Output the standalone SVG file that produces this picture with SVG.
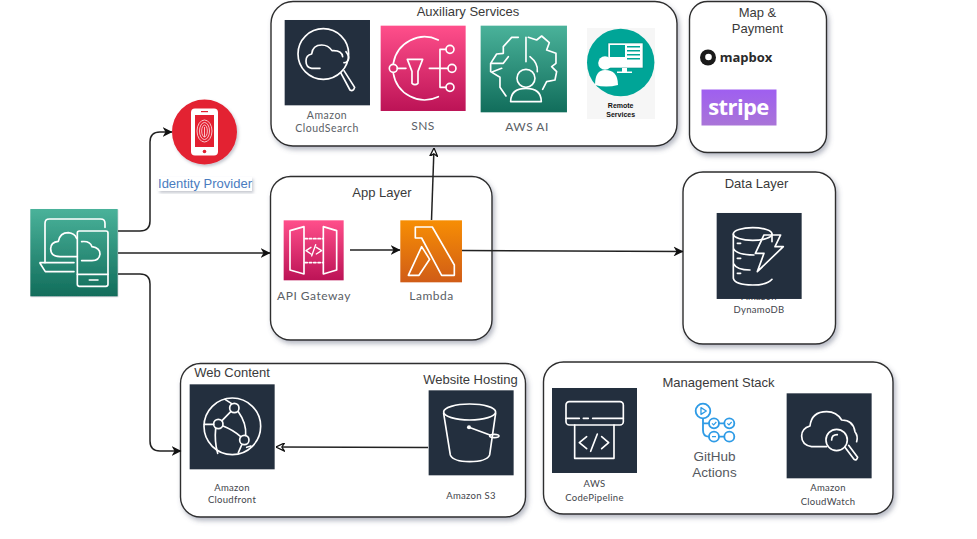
<svg xmlns="http://www.w3.org/2000/svg" width="977" height="539" viewBox="0 0 977 539">
<style>
text{font-family:"Liberation Sans",Arial,sans-serif;fill:#3a3a3a;text-anchor:middle}
.t{font-size:13px}
.h{font-family:"Lato","Liberation Sans",sans-serif;font-size:10.5px;fill:#5a6066;letter-spacing:.5px}
.hs{font-family:"Lato","Liberation Sans",sans-serif;font-size:9.5px;fill:#3f454b;letter-spacing:.3px}
.box{fill:#fff;stroke:#2e2e2e;stroke-width:1.4;filter:url(#sh)}
.i{fill:none;stroke:#fff;stroke-width:5;stroke-linecap:round;stroke-linejoin:round}
.c{fill:none;stroke:#222;stroke-width:1.5}
.dark{fill:#232f3e}
</style>
<defs>
<filter id="sh" x="-10%" y="-10%" width="125%" height="125%"><feDropShadow dx="2" dy="3" stdDeviation="2.5" flood-color="#5a6478" flood-opacity=".45"/></filter>
<filter id="is" x="-10%" y="-10%" width="125%" height="125%"><feDropShadow dx="1.5" dy="2" stdDeviation="1.5" flood-color="#5a6478" flood-opacity=".35"/></filter>
<linearGradient id="pink" x1="0" y1="0" x2="0" y2="1"><stop offset="0" stop-color="#ff4f8b"/><stop offset="1" stop-color="#bc1356"/></linearGradient>
<linearGradient id="green" x1="0" y1="0" x2="0" y2="1"><stop offset="0" stop-color="#4ab29a"/><stop offset="1" stop-color="#116d5b"/></linearGradient>
<linearGradient id="orange" x1="0" y1="0" x2="0" y2="1"><stop offset="0" stop-color="#f78e04"/><stop offset="1" stop-color="#d05c17"/></linearGradient>
<linearGradient id="purple" x1="0" y1="0" x2="0" y2="1"><stop offset="0" stop-color="#9f5ff0"/><stop offset="1" stop-color="#a974d8"/></linearGradient>
<marker id="a" viewBox="0 0 10 10" refX="9.5" refY="5" markerWidth="10" markerHeight="10" markerUnits="userSpaceOnUse" orient="auto"><path d="M0 0L10 5L0 10L3 5Z" fill="#111"/></marker>
<marker id="o" viewBox="0 0 10 10" refX="9.5" refY="5" markerWidth="9" markerHeight="9" markerUnits="userSpaceOnUse" orient="auto"><path d="M0 0.5L9.5 5L0 9.5L3 5Z" fill="#fff" stroke="#111" stroke-width="1.4"/></marker>
</defs>

<g id="aux-services">
<rect class="box" x="271" y="1.5" width="406" height="144.5" rx="22"/>
<text class="t" x="468" y="16">Auxiliary Services</text>
</g>
<g id="map-payment">
<rect class="box" x="689.5" y="1.5" width="137" height="151" rx="18"/>
<text class="t" x="757.5" y="17">Map &amp;</text>
<text class="t" x="757.5" y="32.5">Payment</text>
</g>
<g id="app-layer">
<rect class="box" x="270.5" y="176.5" width="221.5" height="163.5" rx="20"/>
<text class="t" x="382" y="197">App Layer</text>
</g>
<g id="data-layer">
<rect class="box" x="683" y="172" width="152.5" height="172" rx="20"/>
<text class="t" x="756.500" y="188">Data Layer</text>
</g>
<g id="web-content">
<rect class="box" x="180.500" y="363.500" width="345" height="153.500" rx="20"/>
<text class="t" x="232" y="377">Web Content</text>
<text class="t" x="470.500" y="384">Website Hosting</text>
</g>
<g id="management-stack">
<rect class="box" x="543.500" y="362" width="349.500" height="152" rx="20"/>
<text class="t" x="718.500" y="387">Management Stack</text>
</g>

<g id="connectors">
<path class="c" marker-end="url(#a)" d="M118 231H140Q150 231 150 221V142Q150 132 160 132H172"/>
<path class="c" marker-end="url(#a)" d="M118 253H270"/>
<path class="c" marker-end="url(#a)" d="M118 274H140Q150 274 150 284V441Q150 451 160 451H181"/>
<path class="c" marker-end="url(#a)" d="M350 250H400"/>
<path class="c" marker-end="url(#o)" d="M431.500 220L434 148"/>
<path class="c" marker-end="url(#a)" d="M462 250.500L683 251.500"/>
<path class="c" marker-end="url(#o)" d="M428 447.500L276 447"/>
</g>

<g id="identity-provider">
<circle cx="204.500" cy="132" r="32.500" fill="#e32031" filter="url(#is)"/>
<rect x="191" y="108.500" width="27" height="47" rx="4" fill="#fff"/>
<rect x="195" y="115" width="19" height="32" fill="#e32031"/>
<circle cx="204.500" cy="151.500" r="1.800" fill="#e32031"/>
<rect x="201" y="111" width="7" height="1.200" fill="#e32031"/>
<g fill="none" stroke="#fbd5d8" stroke-width=".9">
<ellipse cx="204.500" cy="131" rx="7.500" ry="11"/><ellipse cx="204.500" cy="131" rx="5" ry="8.500"/><ellipse cx="204.500" cy="131" rx="2.800" ry="6"/><path d="M204.500 127V137"/>
</g>
<rect x="158" y="177" width="94" height="14" fill="#fff" filter="url(#is)"/>
<text x="205" y="188" style="font-size:13px;fill:#4a7cc0">Identity Provider</text>
</g>

<g id="client" transform="translate(0 90) scale(.3333)">
<rect x="91" y="357" width="262" height="262" fill="url(#green)" filter="url(#is)"/>
<g class="i">
<path d="M135 518V400Q135 387 148 387H302Q315 387 315 400V412"/>
<path d="M120 518H222M120 520L136 545H222"/>
<rect x="232" y="423" width="92" height="166" rx="6"/>
<path d="M232 553H324M268 570H294"/>
<path d="M232 500H180Q152 500 152 476Q152 456 175 454Q180 428 205 428Q224 430 230 445"/>
<path d="M245 455Q270 452 276 470Q300 474 300 492Q298 512 276 512H245"/>
</g>
</g>

<g id="cloudsearch" transform="translate(270 0) scale(.3333)">
<rect class="dark" x="44" y="60" width="256" height="256"/>
<g class="i">
<circle cx="160" cy="162" r="76"/>
<path d="M212 218L240 270Q250 276 254 262L222 212"/>
<path d="M150 205H125Q108 202 108 183Q108 165 125 162Q128 135 155 135Q175 135 186 152Q215 150 218 170"/>
<path d="M228 155Q240 170 235 180Q230 190 222 188"/>
</g>
</g>
<text class="h" x="327" y="119">Amazon</text>
<text class="h" x="327" y="132">CloudSearch</text>

<g id="sns" transform="translate(270 0) scale(.3333)">
<rect x="332" y="77" width="255" height="256" fill="url(#pink)"/>
<g class="i">
<path d="M370 190A95 95 0 0 1 505 120M370 220A95 95 0 0 0 505 290"/>
<circle cx="370" cy="205" r="12"/><circle cx="540" cy="148" r="12"/><circle cx="546" cy="205" r="12"/><circle cx="540" cy="262" r="12"/>
<path d="M382 205H408M412 178H458L444 214V250Q435 258 426 250V214ZM478 205H534M528 148H510V262H528"/>
</g>
</g>
<text class="h" x="423" y="130" style="font-size:12px">SNS</text>

<g id="aws-ai" transform="translate(270 0) scale(.3333)">
<rect x="632" y="77" width="259" height="260" fill="url(#green)"/>
<g class="i">
<path d="M768 112V185M745 112H725L700 140V160L680 162L662 190V215L690 232V262L708 288M662 190H700L715 170M668 215L695 205"/>
<path d="M775 112L800 120L815 108L838 128L830 150L858 160V190L845 200L860 215L855 240L830 245L818 268"/>
<path d="M780 170Q805 190 802 215"/>
<circle cx="768" cy="235" r="27"/>
<path d="M722 305Q722 265 768 265Q814 265 814 305Z"/>
</g>
</g>
<text class="h" x="527" y="131" style="font-size:12px">AWS AI</text>

<g id="remote-services">
<rect x="587" y="28" width="68" height="91" fill="#f6f6f6"/>
<circle cx="620.700" cy="62.500" r="33.700" fill="#00a597"/>
<rect x="608" y="43" width="35" height="25" fill="#fff" stroke="#00897c" stroke-width=".6"/>
<rect x="610" y="45" width="15" height="12" fill="#00a597"/>
<rect x="627" y="46" width="13" height="1.500" fill="#00a597"/><rect x="627" y="50" width="13" height="1.500" fill="#00a597"/><rect x="627" y="54" width="13" height="1.500" fill="#00a597"/><rect x="627" y="58" width="13" height="1.500" fill="#00a597"/>
<rect x="622" y="68" width="5" height="4" fill="#fff"/><rect x="617" y="71.500" width="15" height="1.500" fill="#fff"/>
<circle cx="605" cy="63" r="6.800" fill="#fff"/>
<path d="M595 85Q595 70 605 70Q618 70 618 85Q606 88 595 85Z" fill="#fff"/>
<text x="620.700" y="107.500" style="font-size:7px;font-weight:bold;fill:#111">Remote</text>
<text x="620.700" y="117" style="font-size:7px;font-weight:bold;fill:#111">Services</text>
</g>

<g id="mapbox">
<circle cx="708" cy="57.500" r="8" fill="#1a1a1a"/><circle cx="708.500" cy="57" r="3.300" fill="#fff"/>
<text x="746" y="62" style="font-size:13px;font-weight:bold;fill:#2a2a2a;font-family:'Open Sans','Liberation Sans',sans-serif">mapbox</text>
</g>
<g id="stripe">
<rect x="701.500" y="89.500" width="75" height="36" fill="url(#purple)"/>
<text x="738.500" y="115" style="font-size:22px;font-weight:bold;fill:#fff;font-family:'Open Sans','Liberation Sans',sans-serif;letter-spacing:-.6px">stripe</text>
</g>

<g id="api-gateway" transform="translate(265 170) scale(.3333)">
<rect x="56" y="151" width="180" height="180" fill="url(#pink)"/>
<g class="i">
<path d="M75 182L117 170V312L75 300ZM215 182L175 170V312L215 300Z"/>
<path d="M120 206H175M120 278H175" stroke-dasharray="7 6"/>
<path d="M138 232L123 242L138 252M154 232L170 242L154 252M152 224L140 258" stroke-width="4"/>
</g>
</g>
<text class="h" x="314" y="300" style="font-size:12px">API Gateway</text>

<g id="lambda" transform="translate(265 170) scale(.3333)">
<rect x="406" y="151" width="185" height="186" fill="url(#orange)"/>
<g class="i">
<path d="M451 171H502L568 285V316H530L470 204H451Z"/>
<path d="M430 316L470 230L494 268L462 316Z"/>
</g>
</g>
<text class="h" x="431.500" y="300" style="font-size:12px">Lambda</text>

<g id="dynamodb">
<text class="hs" x="759" y="300">Amazon</text>
<text class="hs" x="759" y="313">DynamoDB</text>
<g transform="translate(680 0) scale(.3333)">
<rect class="dark" x="110" y="639" width="255" height="258"/>
<g class="i">
<ellipse cx="218" cy="702" rx="58" ry="19"/>
<path d="M160 702V835Q165 855 218 855Q262 855 276 838M160 745Q170 765 222 765M160 790Q170 810 210 810M276 702V725M172 730H182M172 775H182M172 820H182"/>
<path d="M252 705H302L285 740H310L232 815L252 760H226Z"/>
</g>
</g>
</g>

<g id="cloudfront" transform="translate(175 360) scale(.3333)">
<rect class="dark" x="44" y="73" width="255" height="255"/>
<g class="i">
<circle cx="172" cy="199" r="85"/>
<circle cx="178" cy="144" r="14"/><circle cx="130" cy="192" r="14"/><circle cx="208" cy="240" r="14"/>
<path d="M88 193H116M141 182L168 154M144 198Q175 210 197 230M190 155Q215 190 212 226M122 205Q118 245 128 280M150 118L170 131M200 255L190 278M215 262L228 258"/>
</g>
</g>
<text class="hs" x="232" y="491">Amazon</text>
<text class="hs" x="232" y="503">Cloudfront</text>

<g id="s3" transform="translate(175 360) scale(.3333)">
<rect class="dark" x="761" y="91" width="255" height="255"/>
<g class="i">
<ellipse cx="884" cy="156" rx="78" ry="24"/>
<path d="M806 160L826 285Q835 305 884 305Q935 305 944 285L962 160"/>
<path d="M882 202L945 225"/>
<ellipse cx="958" cy="228" rx="14" ry="5"/>
</g>
<circle cx="882" cy="202" r="6" fill="#fff"/>
</g>
<text class="hs" x="471" y="499">Amazon S3</text>

<g id="codepipeline" transform="translate(540 360) scale(.3333)">
<rect class="dark" x="36" y="84" width="255" height="255"/>
<g class="i">
<rect x="78" y="125" width="172" height="70" rx="10"/>
<path d="M78 175H118M130 175H145M158 175H250"/>
<path d="M104 195V295H222V195"/>
<path d="M140 230L118 248L140 266M185 230L206 248L185 266M172 222L152 274"/>
</g>
</g>
<text class="hs" x="594.500" y="487">AWS</text>
<text class="hs" x="594.500" y="501">CodePipeline</text>

<g id="github-actions" transform="translate(540 360) scale(.3333)">
<g fill="none" stroke="#2e9be6" stroke-width="5.500">
<circle cx="489" cy="153" r="22"/>
<path d="M483 143L499 153L483 163Z" stroke-width="4" stroke-linejoin="round"/>
<circle cx="522" cy="190" r="15"/><circle cx="568" cy="190" r="15"/><circle cx="522" cy="230" r="15"/><circle cx="568" cy="230" r="15"/>
<path d="M489 175V210Q489 230 507 230M489 190H507M537 190H553M537 230H553"/>
<path d="M516 190L521 195L529 186M562 190L567 195L575 186M516 230H528" stroke-width="3.500"/>
</g>
</g>
<text x="714.500" y="461" style="font-size:13.500px;fill:#55595e">GitHub</text>
<text x="714.500" y="476.500" style="font-size:13.500px;fill:#55595e">Actions</text>

<g id="cloudwatch" transform="translate(540 360) scale(.3333)">
<rect class="dark" x="740" y="100" width="255" height="255"/>
<g class="i">
<path d="M860 260H815Q785 255 785 228Q785 205 810 198Q815 155 860 155Q890 155 905 180Q940 180 945 215Q955 228 950 245"/>
<circle cx="890" cy="240" r="32"/>
<path d="M875 240Q875 224 892 224"/>
<path d="M915 262L942 298Q950 303 953 292L926 256"/>
</g>
</g>
<text class="hs" x="828" y="491">Amazon</text>
<text class="hs" x="828" y="505">CloudWatch</text>
</svg>
